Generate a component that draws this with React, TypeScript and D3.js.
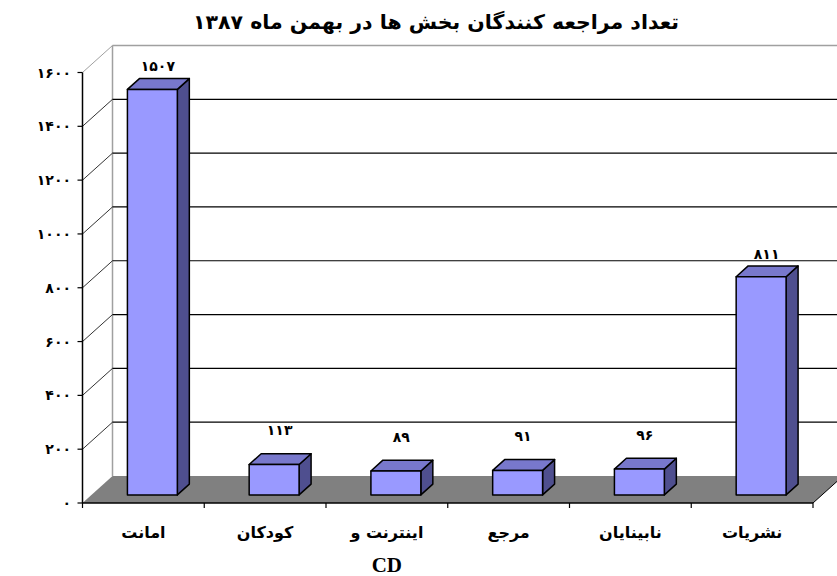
import React from "react";
import * as d3 from "d3";

const title = "تعداد مراجعه کنندگان بخش ها در بهمن ماه ۱۳۸۷";
const categories = ["امانت", "کودکان", "اینترنت و\nCD", "مرجع", "نابینایان", "نشریات"];
const values = [1507, 113, 89, 91, 96, 811];
const yTicks = [0, 200, 400, 600, 800, 1000, 1200, 1400, 1600];

const toFa = (n: number) => String(n).replace(/\d/g, (d) => "۰۱۲۳۴۵۶۷۸۹"[+d]);

const W = 837;
const H = 576;
const X0 = 82.5;
const X1 = 813;
const Y_BASE = 503;
const Y_TOP = 72.5;
const DX = 30;
const DY = -27;
const Z_FRONT = 0.3;
const Z_BACK = 0.7;
const FONT = "'DejaVu Sans', sans-serif";

export default function App() {
  const x = d3.scaleBand<string>().domain(categories).range([X0, X1]).padding(0);
  const y = d3.scaleLinear().domain([0, 1600]).range([Y_BASE, Y_TOP]);
  const P = (px: number, v: number, z: number): [number, number] => [px + z * DX, y(v) + z * DY];
  const poly = (pts: [number, number][]) => pts.map((p) => p.join(",")).join(" ");
  const bw = x.bandwidth();
  const barHalf = bw * 0.205;

  return (
    <svg width={W} height={H} style={{ position: "absolute", left: 0, top: 0, background: "#fff" }}>
      {/* title */}
      <text x={436} y={22} textAnchor="middle" dominantBaseline="central" direction="rtl"
        textLength={486} lengthAdjust="spacingAndGlyphs"
        fontFamily={FONT} fontWeight="bold" fontSize={20} fill="#000">{title}</text>

      {/* floor */}
      <polygon points={poly([P(X0, 0, 0), P(X1, 0, 0), P(X1, 0, 1), P(X0, 0, 1)])} fill="#808080" />
      <line x1={P(X1, 0, 0)[0]} y1={P(X1, 0, 0)[1]} x2={P(X1, 0, 1)[0]} y2={P(X1, 0, 1)[1]} stroke="#000" strokeWidth={1} />

      {/* walls edges */}
      <line x1={P(X0, 0, 1)[0]} y1={P(X0, 0, 1)[1]} x2={P(X0, 1600, 1)[0]} y2={P(X0, 1600, 1)[1]} stroke="#a0a0a0" strokeWidth={1.5} />

      {/* gridlines */}
      {yTicks.filter((v) => v > 0).map((v) => {
        const top = v === 1600;
        const a = P(X0, v, 0), b = P(X0, v, 1), c = P(X1 + 40, v, 1);
        return (
          <g key={v}>
            <line x1={a[0]} y1={a[1]} x2={b[0]} y2={b[1]} stroke={top ? "#a0a0a0" : "#333"} strokeWidth={1} />
            <line x1={b[0]} y1={b[1]} x2={c[0]} y2={c[1]} stroke={top ? "#a0a0a0" : "#000"} strokeWidth={top ? 1.5 : 1.2} />
          </g>
        );
      })}

      {/* axes */}
      <line x1={X0} y1={y(0)} x2={X0} y2={y(1600)} stroke="#000" strokeWidth={1.5} />
      <line x1={X0} y1={y(0)} x2={X1} y2={y(0)} stroke="#000" strokeWidth={1.5} />
      {yTicks.map((v) => (
        <g key={v}>
          <line x1={X0 - 5} y1={y(v)} x2={X0} y2={y(v)} stroke="#000" strokeWidth={1.2} />
          <text x={71} y={y(v)} textAnchor="end" dominantBaseline="central" fontFamily={FONT}
            fontWeight="bold" fontSize={14} letterSpacing={5} fill="#000">{toFa(v)}</text>
        </g>
      ))}
      {categories.map((c, i) => (
        <line key={"t" + i} x1={x(c)!} y1={y(0)} x2={x(c)!} y2={y(0) + 5} stroke="#000" strokeWidth={1.2} />
      ))}
      <line x1={X1} y1={y(0)} x2={X1} y2={y(0) + 5} stroke="#000" strokeWidth={1.2} />

      {/* bars */}
      {categories.map((c, i) => {
        const v = values[i];
        const cx = x(c)! + bw / 2;
        const l = cx - barHalf, r = cx + barHalf;
        const front = [P(l, 0, Z_FRONT), P(r, 0, Z_FRONT), P(r, v, Z_FRONT), P(l, v, Z_FRONT)];
        const top = [P(l, v, Z_FRONT), P(r, v, Z_FRONT), P(r, v, Z_BACK), P(l, v, Z_BACK)];
        const side = [P(r, 0, Z_FRONT), P(r, 0, Z_BACK), P(r, v, Z_BACK), P(r, v, Z_FRONT)];
        const lab = P(cx + 5.5, v, Z_FRONT);
        const gap = v > 400 ? 23 : 34;
        return (
          <g key={c} stroke="#000" strokeWidth={1.5} strokeLinejoin="round">
            <polygon points={poly(side)} fill="#4f4f8f" />
            <polygon points={poly(top)} fill="#7878cc" />
            <polygon points={poly(front)} fill="#9999ff" />
            <text x={lab[0]} y={lab[1] - gap} textAnchor="middle" dominantBaseline="central" stroke="none"
              fontFamily={FONT} fontWeight="bold" fontSize={14} letterSpacing={5} fill="#000">{toFa(v)}</text>
          </g>
        );
      })}

      {/* category labels */}
      {categories.map((c) => {
        const lines = c.split("\n");
        const cx = x(c)! + bw / 2;
        return (
          <g key={"l" + c}>
            {lines.map((ln, j) => {
              const latin = /[A-Za-z]/.test(ln);
              return (
                <text key={j} x={cx} y={latin ? 565 : 532} textAnchor="middle" dominantBaseline="central"
                  direction={latin ? "ltr" : "rtl"}
                  fontFamily={latin ? "'Liberation Serif', serif" : FONT}
                  fontWeight="bold" fontSize={latin ? 21 : 16} fill="#000">{ln}</text>
              );
            })}
          </g>
        );
      })}
    </svg>
  );
}
